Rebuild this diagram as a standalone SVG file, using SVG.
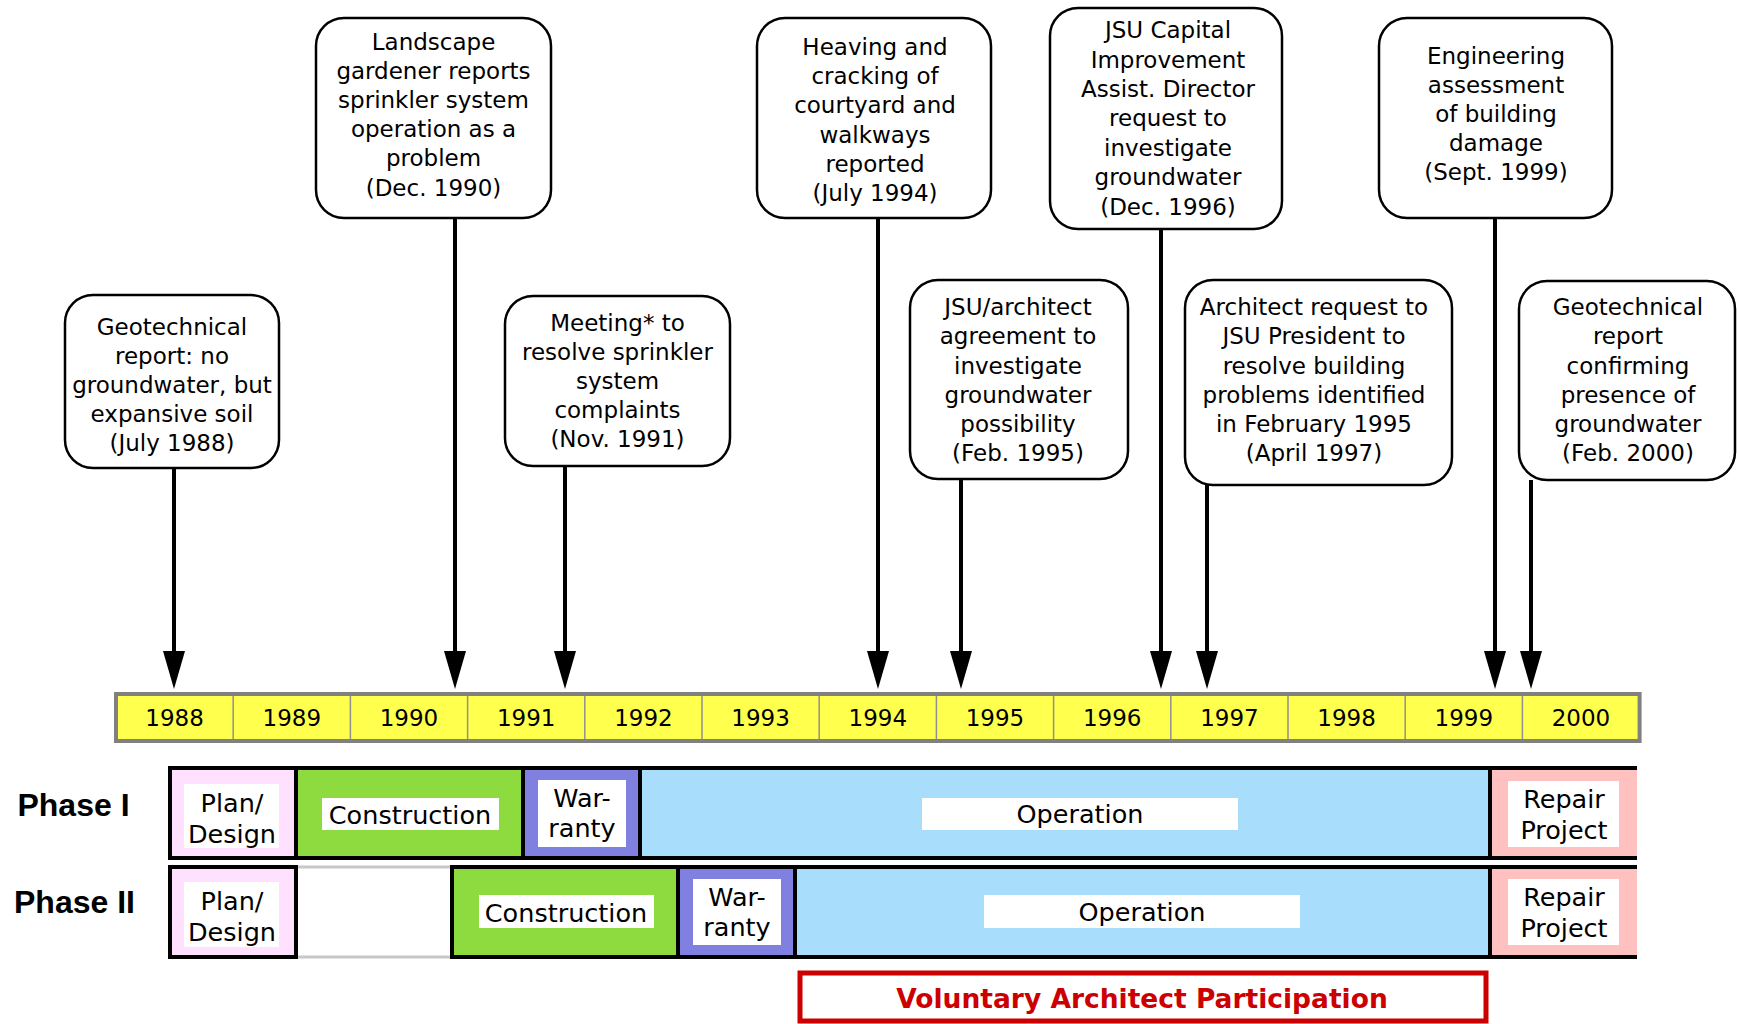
<svg xmlns="http://www.w3.org/2000/svg" width="1737" height="1024" viewBox="0 0 1737 1024">
<style>
.box{fill:#fff;stroke:#000;stroke-width:2.5}
.t{font-family:"DejaVu Sans",sans-serif;font-size:23px;fill:#000;text-anchor:middle}
.r{font-family:"DejaVu Sans",sans-serif;font-size:25.5px;fill:#000;text-anchor:middle}
.ph{font-family:"Liberation Sans",Arial,sans-serif;font-weight:bold;font-size:32px;fill:#000;text-anchor:middle}
.cell{stroke:#000;stroke-width:4}
.lbl{fill:#fff}
.yr{fill:none;stroke:#909090;stroke-width:1.5}
.con{stroke:#000;stroke-width:4;fill:none;marker-end:url(#ah)}
</style>
<defs>
<marker id="ah" markerUnits="userSpaceOnUse" markerWidth="38" markerHeight="22" refX="0" refY="11" orient="auto" viewBox="0 0 38 22">
<path d="M0,0 L38,11 L0,22 z" fill="#000"/>
</marker>
</defs>
<rect width="1737" height="1024" fill="#fff"/>

<g id="connectors">
<line class="con" x1="174" y1="468" x2="174" y2="651"/>
<line class="con" x1="455" y1="218" x2="455" y2="651"/>
<line class="con" x1="565" y1="466" x2="565" y2="651"/>
<line class="con" x1="878" y1="218" x2="878" y2="651"/>
<line class="con" x1="961" y1="479" x2="961" y2="651"/>
<line class="con" x1="1161" y1="229" x2="1161" y2="651"/>
<line class="con" x1="1207" y1="485" x2="1207" y2="651"/>
<line class="con" x1="1495" y1="218" x2="1495" y2="651"/>
<line class="con" x1="1531" y1="480" x2="1531" y2="651"/>
</g>

<g id="ev1988">
<rect class="box" x="65" y="295" width="214" height="173" rx="28"/>
<text class="t" x="172" y="335">Geotechnical</text>
<text class="t" x="172" y="364">report: no</text>
<text class="t" x="172" y="393">groundwater, but</text>
<text class="t" x="172" y="422">expansive soil</text>
<text class="t" x="172" y="451">(July 1988)</text>
</g>
<g id="ev1990">
<rect class="box" x="316" y="18" width="235" height="200" rx="28"/>
<text class="t" x="433.5" y="50">Landscape</text>
<text class="t" x="433.5" y="79">gardener reports</text>
<text class="t" x="433.5" y="108">sprinkler system</text>
<text class="t" x="433.5" y="137">operation as a</text>
<text class="t" x="433.5" y="166">problem</text>
<text class="t" x="433.5" y="196">(Dec. 1990)</text>
</g>
<g id="ev1991">
<rect class="box" x="505" y="296" width="225" height="170" rx="28"/>
<text class="t" x="617.5" y="331">Meeting* to</text>
<text class="t" x="617.5" y="360">resolve sprinkler</text>
<text class="t" x="617.5" y="389">system</text>
<text class="t" x="617.5" y="418">complaints</text>
<text class="t" x="617.5" y="447">(Nov. 1991)</text>
</g>
<g id="ev1994">
<rect class="box" x="757" y="18" width="234" height="200" rx="28"/>
<text class="t" x="875" y="55">Heaving and</text>
<text class="t" x="875" y="84">cracking of</text>
<text class="t" x="875" y="113">courtyard and</text>
<text class="t" x="875" y="143">walkways</text>
<text class="t" x="875" y="172">reported</text>
<text class="t" x="875" y="201">(July 1994)</text>
</g>
<g id="ev1995">
<rect class="box" x="910" y="280" width="218" height="199" rx="28"/>
<text class="t" x="1018" y="315">JSU/architect</text>
<text class="t" x="1018" y="344">agreement to</text>
<text class="t" x="1018" y="374">investigate</text>
<text class="t" x="1018" y="403">groundwater</text>
<text class="t" x="1018" y="432">possibility</text>
<text class="t" x="1018" y="461">(Feb. 1995)</text>
</g>
<g id="ev1996">
<rect class="box" x="1050" y="8" width="232" height="221" rx="28"/>
<text class="t" x="1168" y="38">JSU Capital</text>
<text class="t" x="1168" y="68">Improvement</text>
<text class="t" x="1168" y="97">Assist. Director</text>
<text class="t" x="1168" y="126">request to</text>
<text class="t" x="1168" y="156">investigate</text>
<text class="t" x="1168" y="185">groundwater</text>
<text class="t" x="1168" y="215">(Dec. 1996)</text>
</g>
<g id="ev1997">
<rect class="box" x="1185" y="280" width="267" height="205" rx="28"/>
<text class="t" x="1314" y="315">Architect request to</text>
<text class="t" x="1314" y="344">JSU President to</text>
<text class="t" x="1314" y="374">resolve building</text>
<text class="t" x="1314" y="403">problems identified</text>
<text class="t" x="1314" y="432">in February 1995</text>
<text class="t" x="1314" y="461">(April 1997)</text>
</g>
<g id="ev1999">
<rect class="box" x="1379" y="18" width="233" height="200" rx="28"/>
<text class="t" x="1496" y="64">Engineering</text>
<text class="t" x="1496" y="93">assessment</text>
<text class="t" x="1496" y="122">of building</text>
<text class="t" x="1496" y="151">damage</text>
<text class="t" x="1496" y="180">(Sept. 1999)</text>
</g>
<g id="ev2000">
<rect class="box" x="1519" y="281" width="216" height="199" rx="28"/>
<text class="t" x="1628" y="315">Geotechnical</text>
<text class="t" x="1628" y="344">report</text>
<text class="t" x="1628" y="374">confirming</text>
<text class="t" x="1628" y="403">presence of</text>
<text class="t" x="1628" y="432">groundwater</text>
<text class="t" x="1628" y="461">(Feb. 2000)</text>
</g>

<g id="timeline">
<rect x="116" y="694" width="1523.6" height="47" fill="#FFFF4D" stroke="#808080" stroke-width="4"/>
<path class="yr" d="M233.2,696V739M350.4,696V739M467.6,696V739M584.8,696V739M702,696V739M819.2,696V739M936.4,696V739M1053.6,696V739M1170.8,696V739M1288,696V739M1405.2,696V739M1522.4,696V739"/>
<text class="t" x="174.6" y="726">1988</text>
<text class="t" x="291.8" y="726">1989</text>
<text class="t" x="409" y="726">1990</text>
<text class="t" x="526.2" y="726">1991</text>
<text class="t" x="643.4" y="726">1992</text>
<text class="t" x="760.6" y="726">1993</text>
<text class="t" x="877.8" y="726">1994</text>
<text class="t" x="995" y="726">1995</text>
<text class="t" x="1112.2" y="726">1996</text>
<text class="t" x="1229.4" y="726">1997</text>
<text class="t" x="1346.6" y="726">1998</text>
<text class="t" x="1463.8" y="726">1999</text>
<text class="t" x="1581" y="726">2000</text>
</g>

<g id="phase1">
<text class="ph" x="73.5" y="816">Phase I</text>
<rect class="cell" x="170" y="768" width="126" height="90" fill="#FFE0FF"/>
<rect class="lbl" x="184" y="784" width="95" height="64"/>
<text class="r" x="232" y="812">Plan/</text>
<text class="r" x="232" y="843">Design</text>
<rect class="cell" x="296" y="768" width="227" height="90" fill="#8EDB40"/>
<rect class="lbl" x="322" y="798" width="177" height="32"/>
<text class="r" x="410" y="824">Construction</text>
<rect class="cell" x="523" y="768" width="117" height="90" fill="#8080E0"/>
<rect class="lbl" x="538" y="780" width="88" height="67"/>
<text class="r" x="582" y="807">War-</text>
<text class="r" x="582" y="837">ranty</text>
<rect class="cell" x="640" y="768" width="850" height="90" fill="#A8DEFC"/>
<rect class="lbl" x="922" y="798" width="316" height="32"/>
<text class="r" x="1080" y="823">Operation</text>
<rect x="1490" y="768" width="147" height="90" fill="#FFC0C0"/>
<path d="M1490,768H1637M1490,858H1637M1490,766V860" stroke="#000" stroke-width="4"/>
<rect class="lbl" x="1508" y="781" width="111" height="66"/>
<text class="r" x="1564" y="808">Repair</text>
<text class="r" x="1564" y="839">Project</text>
</g>

<g id="phase2">
<text class="ph" x="74.5" y="913">Phase II</text>
<path d="M296,867H452M296,957H452" stroke="#C8C8C8" stroke-width="3"/>
<rect class="cell" x="170" y="867" width="126" height="90" fill="#FFE0FF"/>
<rect class="lbl" x="184" y="882" width="95" height="65"/>
<text class="r" x="232" y="910">Plan/</text>
<text class="r" x="232" y="941">Design</text>
<rect class="cell" x="452" y="867" width="226" height="90" fill="#8EDB40"/>
<rect class="lbl" x="479" y="895" width="175" height="33"/>
<text class="r" x="566" y="922">Construction</text>
<rect class="cell" x="678" y="867" width="117" height="90" fill="#8080E0"/>
<rect class="lbl" x="693" y="879" width="88" height="66"/>
<text class="r" x="737" y="906">War-</text>
<text class="r" x="737" y="936">ranty</text>
<rect class="cell" x="795" y="867" width="695" height="90" fill="#A8DEFC"/>
<rect class="lbl" x="984" y="895" width="316" height="33"/>
<text class="r" x="1142" y="921">Operation</text>
<rect x="1490" y="867" width="147" height="90" fill="#FFC0C0"/>
<path d="M1490,867H1637M1490,957H1637M1490,865V959" stroke="#000" stroke-width="4"/>
<rect class="lbl" x="1508" y="879" width="111" height="66"/>
<text class="r" x="1564" y="906">Repair</text>
<text class="r" x="1564" y="937">Project</text>
</g>

<g id="voluntary">
<rect x="800" y="973" width="686" height="48" fill="#fff" stroke="#CC0000" stroke-width="5"/>
<text x="1142" y="1008" font-family="DejaVu Sans, sans-serif" font-weight="bold" font-size="26.5" fill="#CC0000" text-anchor="middle">Voluntary Architect Participation</text>
</g>
</svg>
